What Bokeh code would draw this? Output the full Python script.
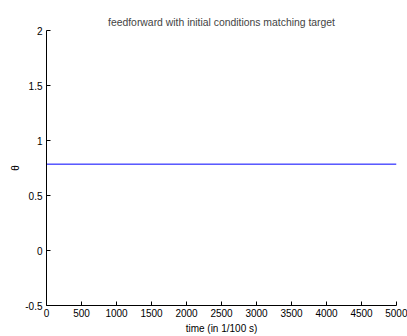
from bokeh.plotting import figure
from bokeh.models import Range1d, FixedTicker
from bokeh.embed import file_html
from bokeh.resources import INLINE

# data
time = [0, 5000]
theta = [0.785, 0.785]
x_ticks = [0, 500, 1000, 1500, 2000, 2500, 3000, 3500, 4000, 4500, 5000]
y_ticks = [-0.5, 0, 0.5, 1, 1.5, 2]
y_tick_labels = ["-0.5", "0", "0.5", "1", "1.5", "2"]

FONT = "Liberation Sans"

p = figure(width=407, height=336, output_backend="svg", toolbar_location=None,
           x_range=Range1d(0, 5000), y_range=Range1d(-0.5, 2),
           min_border_left=46, min_border_right=11, min_border_top=30, min_border_bottom=31)
p.title.text = "feedforward with initial conditions matching target"
p.title.align = "center"
p.title.text_font = FONT
p.title.text_font_size = "10.4px"
p.title.text_font_style = "normal"
p.title.standoff = 6

p.line(time, theta, line_color="#0000ff", line_width=1)

p.xgrid.visible = False
p.ygrid.visible = False
p.outline_line_color = None

for ax in (p.xaxis[0], p.yaxis[0]):
    ax.major_tick_in = 4
    ax.major_tick_out = 0
    ax.minor_tick_line_color = None
    ax.axis_line_color = "black"
    ax.major_tick_line_color = "black"
    ax.major_label_text_font = FONT
    ax.major_label_text_font_size = "10px"
    ax.major_label_text_color = "black"
    ax.axis_label_text_font = FONT
    ax.axis_label_text_font_size = "10px"
    ax.axis_label_text_font_style = "normal"
    ax.axis_label_text_color = "black"
    ax.major_label_standoff = 3
    ax.axis_label_standoff = 3

p.xaxis[0].ticker = FixedTicker(ticks=x_ticks)
p.yaxis[0].ticker = FixedTicker(ticks=y_ticks)
p.xaxis[0].major_label_overrides = {t: str(t) for t in x_ticks}
p.yaxis[0].major_label_overrides = dict(zip(y_ticks, y_tick_labels))
p.xaxis[0].axis_label = "time (in 1/100 s)"
p.yaxis[0].axis_label = "θ"
p.yaxis[0].major_label_standoff = 4
p.yaxis[0].axis_label_standoff = 1

open("out.html", "w").write(file_html(p, INLINE))
